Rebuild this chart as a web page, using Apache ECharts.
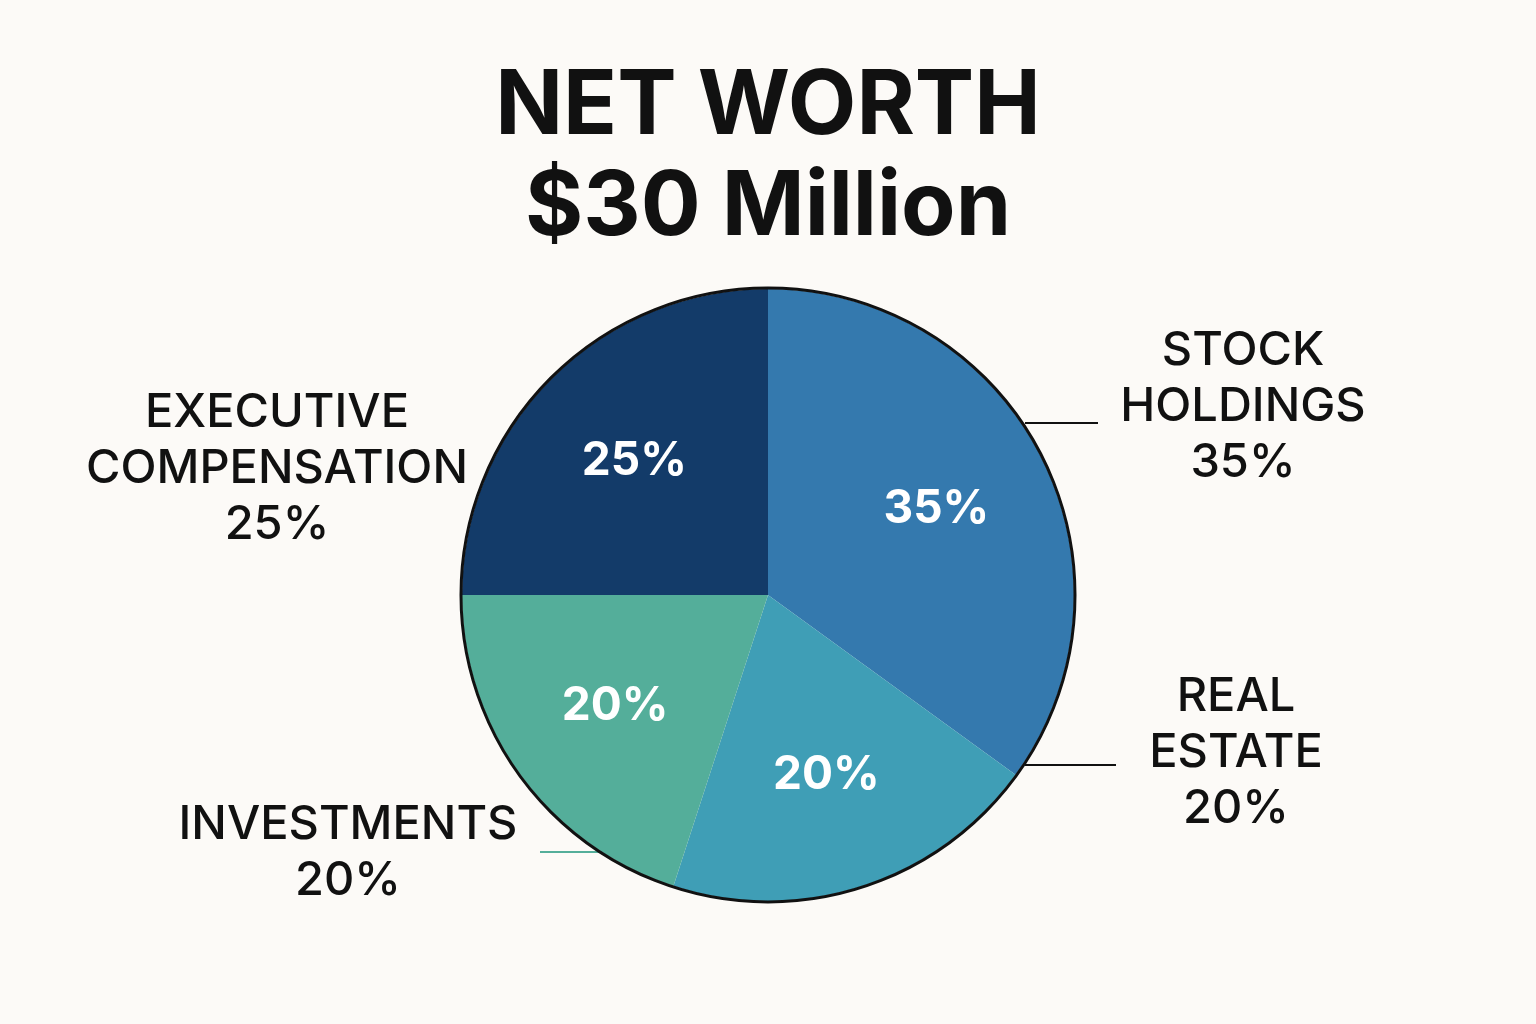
<!DOCTYPE html>
<html>
<head>
<meta charset="utf-8">
<title>Net Worth</title>
<script src="https://cdn.jsdelivr.net/npm/echarts@6/dist/echarts.min.js"></script>
<style>
  html, body { margin: 0; padding: 0; background: #fcfaf7; }
  #chart { width: 1536px; height: 1024px; }
</style>
</head>
<body>
<div id="chart"></div>
<script>
  // data
  var categories = ['STOCK\nHOLDINGS', 'REAL\nESTATE', 'INVESTMENTS', 'EXECUTIVE\nCOMPENSATION'];
  var shares = [35, 20, 20, 25];
  var colors = ['#3479ae', '#3f9eb6', '#54ae9a', '#133b69'];

  // where the outside labels sit, and their leader lines (null = no line)
  var labelPos = [[1243, 407], [1236, 753], [348, 853], [277, 469]];
  var leaderLines = [
    [[1025, 423], [1061, 423], [1098, 423]],
    [[1025, 765], [1070, 765], [1116, 765]],
    [[603, 852], [570, 852], [540, 852]],
    null
  ];
  var lineColors = ['#111111', '#111111', '#54ae9a', '#111111'];

  var center = [768, 595];
  var radius = 306;

  var chart = echarts.init(document.getElementById('chart'));

  var mainData = categories.map(function (c, i) {
    return {
      name: c,
      value: shares[i],
      itemStyle: { color: colors[i] },
      labelLine: {
        show: leaderLines[i] !== null,
        lineStyle: { color: lineColors[i], width: 2 }
      }
    };
  });

  var overlayData = categories.map(function (c, i) {
    return { name: c, value: shares[i] };
  });

  var option = {
    backgroundColor: '#fcfaf7',
    animation: false,
    title: {
      text: 'NET WORTH\n$30 Million',
      left: 'center',
      top: 52,
      textStyle: {
        fontFamily: 'Inter',
        fontWeight: 700,
        fontSize: 89,
        lineHeight: 101,
        color: '#111111'
      }
    },
    series: [
      {
        type: 'pie',
        center: center,
        radius: radius,
        startAngle: 90,
        clockwise: true,
        silent: true,
        data: mainData,
        label: {
          show: true,
          position: 'outside',
          formatter: function (p) { return p.name + '\n' + p.value + '%'; },
          fontFamily: 'Inter',
          fontWeight: 500,
          fontSize: 47,
          lineHeight: 56,
          color: '#111111',
          align: 'center'
        },
        labelLine: { show: true },
        labelLayout: function (params) {
          var i = params.dataIndex;
          var out = {
            x: labelPos[i][0],
            y: labelPos[i][1],
            align: 'center',
            verticalAlign: 'middle'
          };
          if (leaderLines[i]) out.labelLinePoints = leaderLines[i];
          return out;
        }
      },
      {
        type: 'pie',
        center: center,
        radius: [66, radius],
        startAngle: 90,
        clockwise: true,
        silent: true,
        data: overlayData,
        itemStyle: { color: 'rgba(0,0,0,0)' },
        label: {
          show: true,
          position: 'inside',
          formatter: '{c}%',
          fontFamily: 'Inter',
          fontWeight: 700,
          fontSize: 46,
          color: '#ffffff'
        },
        labelLine: { show: false }
      }
    ],
    graphic: [
      {
        type: 'circle',
        shape: { cx: center[0], cy: center[1], r: radius + 1 },
        style: { fill: 'none', stroke: '#111111', lineWidth: 3 },
        z: 10,
        silent: true
      }
    ]
  };

  chart.setOption(option);
</script>
</body>
</html>
